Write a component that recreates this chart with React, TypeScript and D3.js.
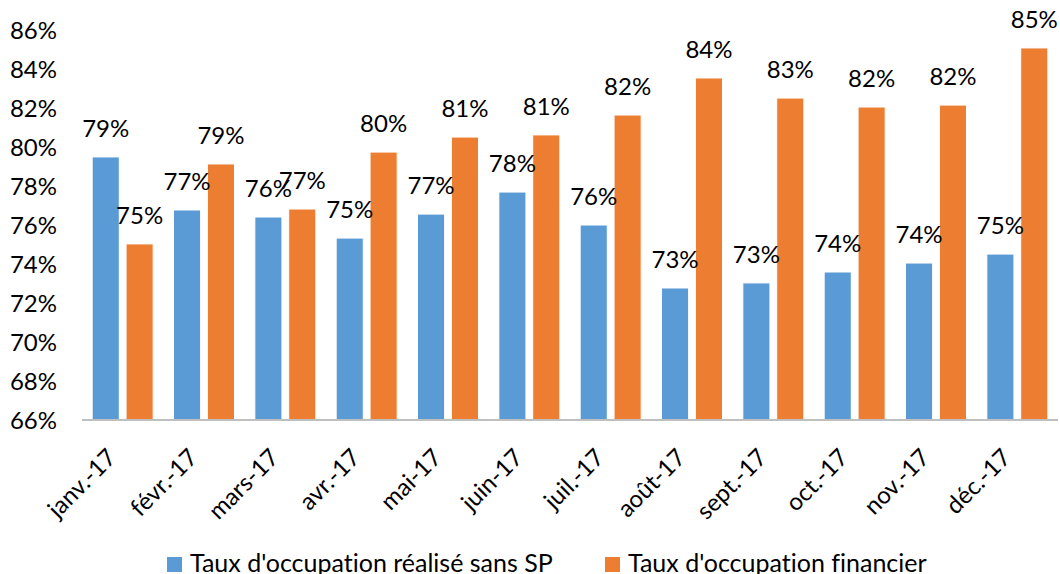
import React from "react";
import * as d3 from "d3";

const months = ["janv.-17", "févr.-17", "mars-17", "avr.-17", "mai-17", "juin-17", "juil.-17", "août-17", "sept.-17", "oct.-17", "nov.-17", "déc.-17"];
const realise = [0.7949, 0.7677, 0.7641, 0.7533, 0.7656, 0.7769, 0.76, 0.7277, 0.7303, 0.7359, 0.7405, 0.7451];
const financier = [0.7503, 0.7913, 0.7682, 0.7974, 0.8051, 0.8062, 0.8164, 0.8354, 0.8251, 0.8205, 0.8215, 0.8508];
const seriesNames = ["Taux d'occupation réalisé sans SP", "Taux d'occupation financier"];
const yTicks = [0.66, 0.68, 0.7, 0.72, 0.74, 0.76, 0.78, 0.8, 0.82, 0.84, 0.86];

const colors = ["#5B9BD5", "#ED7D31"];
const font = "Lato, 'Open Sans', sans-serif";

export default function App() {
  const width = 1060, height = 574;
  const left = 82, right = 1058, top = 30, bottom = 420;

  const x0 = d3.scaleBand<string>().domain(months).range([left, right]).paddingInner(0.25).paddingOuter(0.125);
  const x1 = d3.scaleBand<number>().domain([0, 1]).range([0, x0.bandwidth()]).paddingInner(0.2);
  const y = d3.scaleLinear().domain([0.66, 0.86]).range([bottom, top]);
  const fmt = d3.format(".0%");
  const data = [realise, financier];

  return (
    <svg width={width} height={height} style={{ position: "absolute", left: 0, top: 0, background: "#fff", fontVariantLigatures: "none" }} fontFamily={font}>
      {yTicks.map(t => (
        <text key={t} x={57} y={y(t)} dy="0.36em" textAnchor="end" fontSize={24} fill="#000">{fmt(t)}</text>
      ))}
      {months.map((m, i) => (
        <g key={m} transform={`translate(${x0(m)},0)`}>
          {data.map((s, k) => (
            <rect key={k} x={x1(k)} y={y(s[i])} width={x1.bandwidth()} height={bottom - y(s[i])}
              fill={colors[k]} stroke="#fff" strokeWidth={1} />
          ))}
        </g>
      ))}
      {months.map((m, i) => (
        <g key={m + "l"}>
          {data.map((s, k) => (
            <text key={k} x={(x0(m) as number) + (x1(k) as number) + x1.bandwidth() / 2} y={y(s[i]) - 20}
              textAnchor="middle" fontSize={24} fill="#000">{fmt(s[i])}</text>
          ))}
        </g>
      ))}
      <line x1={left} x2={right} y1={bottom} y2={bottom} stroke="#BFBFBF" strokeWidth={2} />
      {months.map(m => {
        const cx = (x0(m) as number) + x0.bandwidth() / 2;
        return (
          <text key={m + "x"} transform={`translate(${cx - 5},${459}) rotate(-45)`} textAnchor="end" fontSize={24} fill="#000">{m}</text>
        );
      })}
      <g>
        <rect x={167} y={557} width={15} height={15} fill={colors[0]} />
        <text x={190} y={572} fontSize={25} fill="#000">{seriesNames[0]}</text>
        <rect x={605} y={557} width={15} height={15} fill={colors[1]} />
        <text x={628} y={572} fontSize={25} fill="#000">{seriesNames[1]}</text>
      </g>
    </svg>
  );
}
